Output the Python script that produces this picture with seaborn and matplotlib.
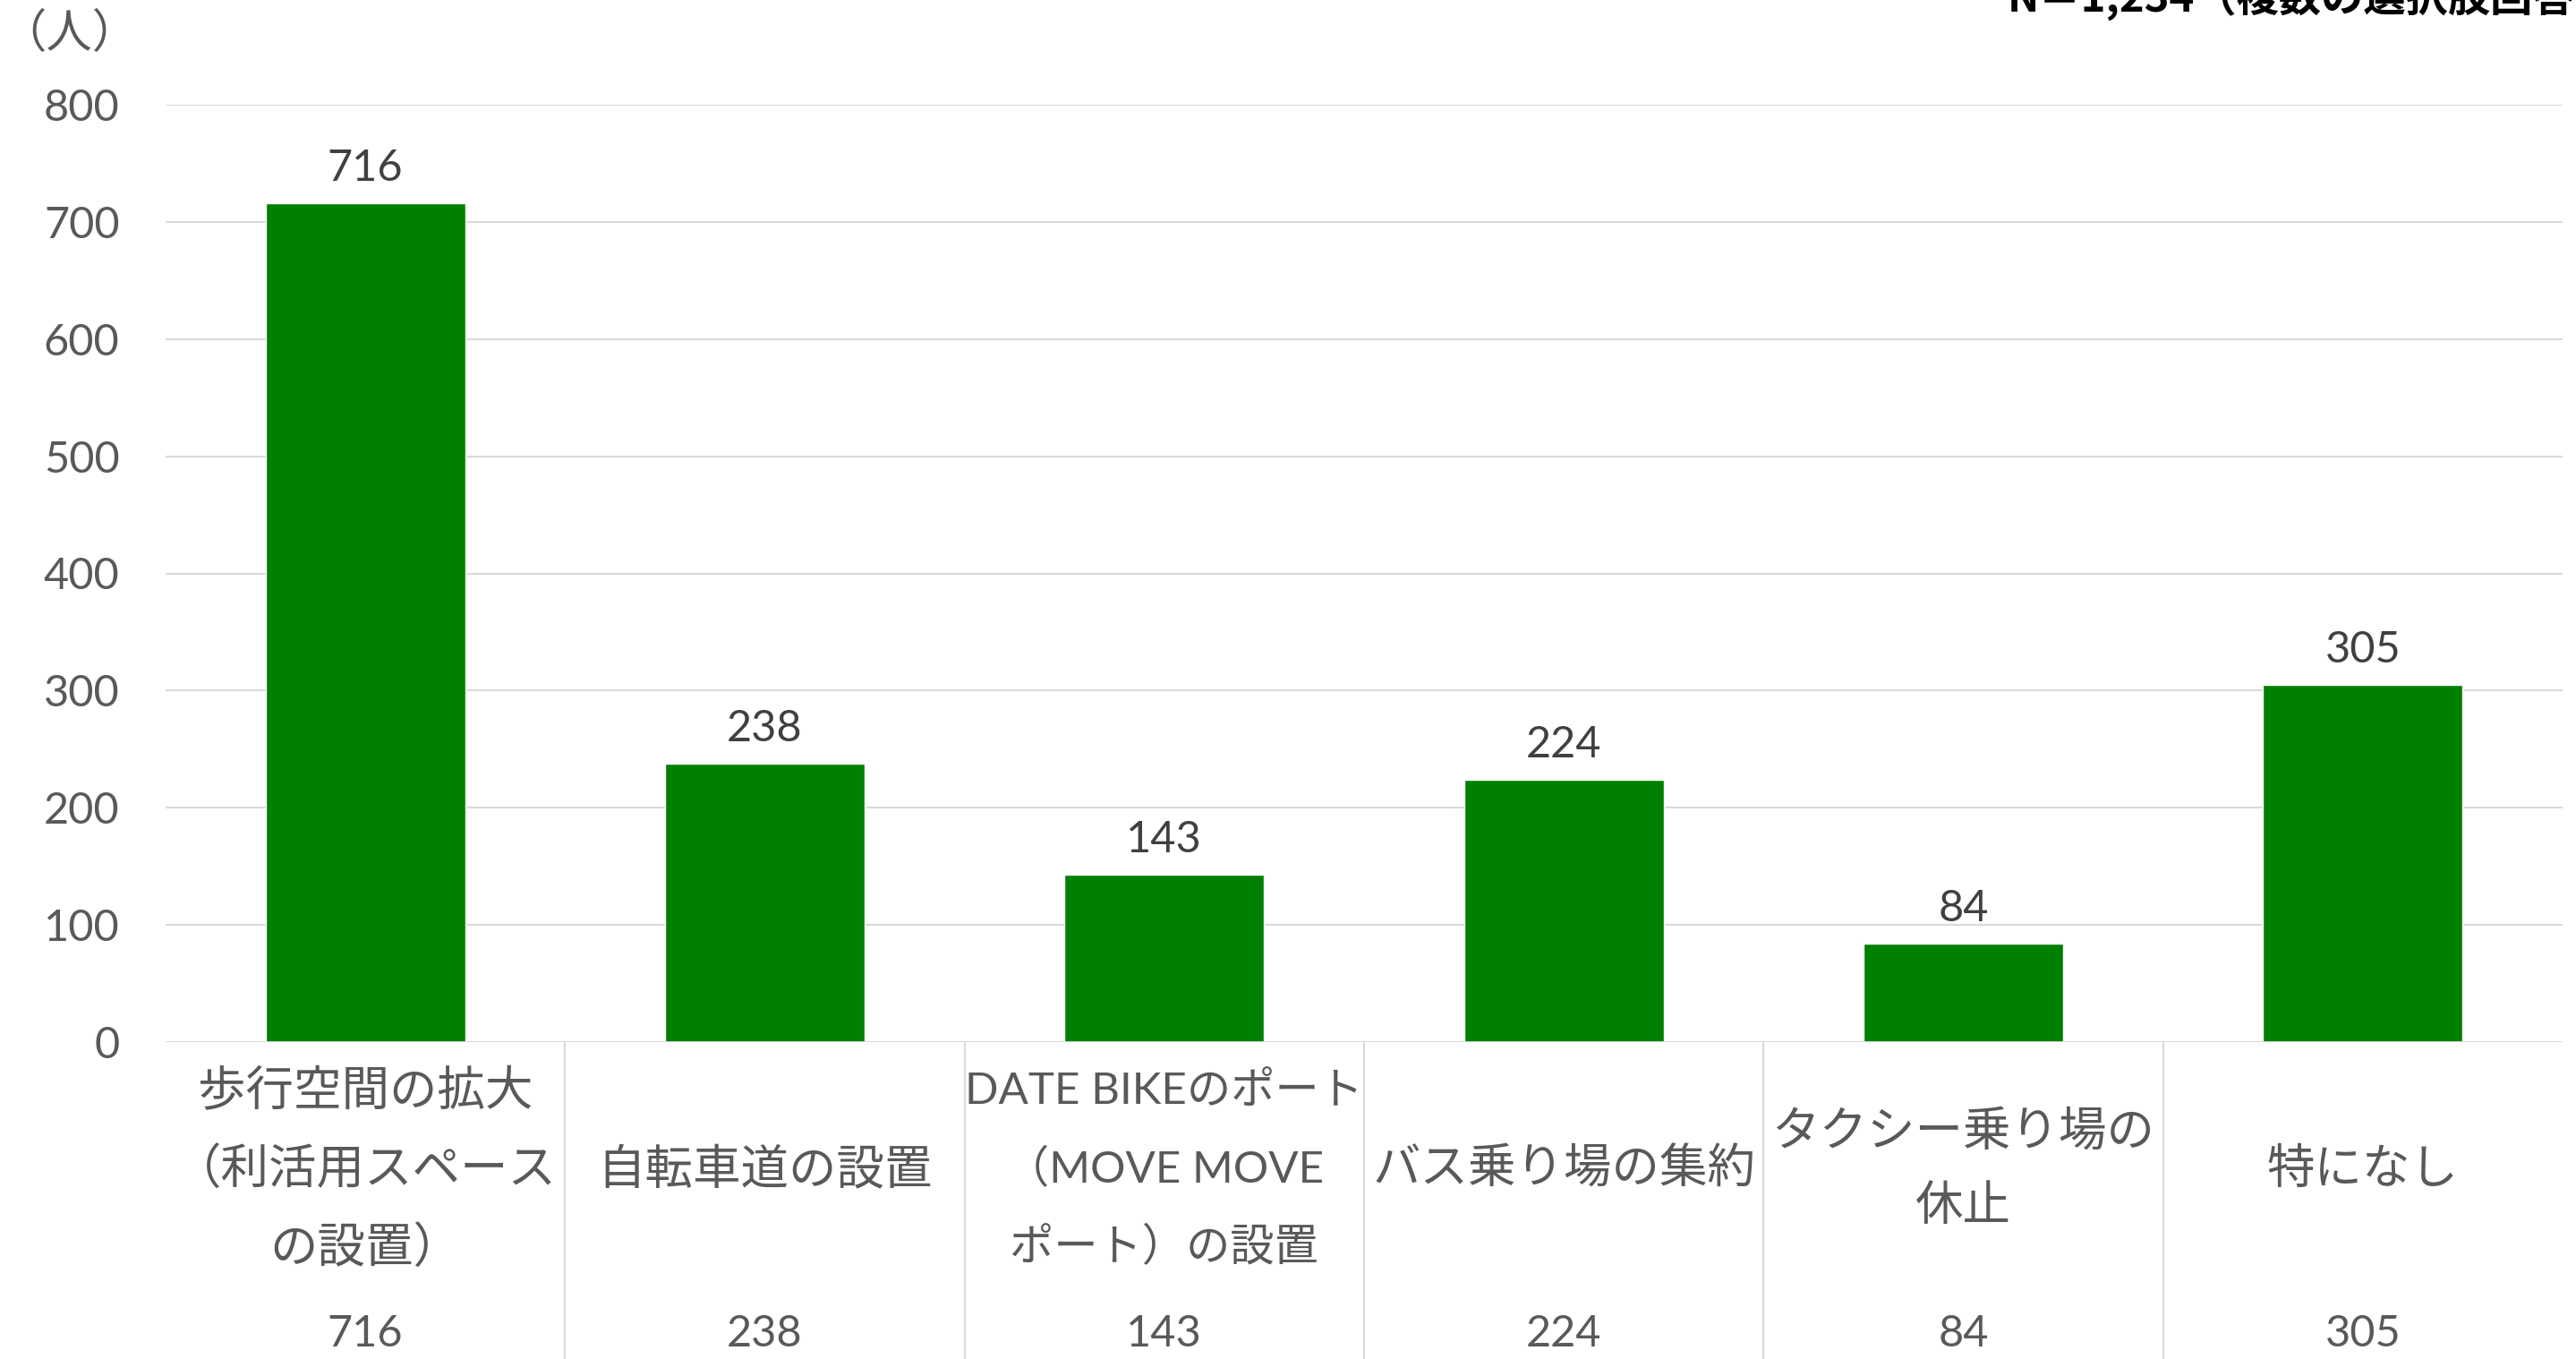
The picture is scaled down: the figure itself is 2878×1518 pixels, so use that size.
import matplotlib
matplotlib.use('Agg')
import matplotlib.pyplot as plt
import matplotlib.transforms as mtrans
from matplotlib.lines import Line2D
from matplotlib import font_manager
import seaborn as sns
import pandas as pd

categories = [
    "歩行空間の拡大\n（利活用スペース\nの設置）",
    "自転車道の設置",
    "DATE BIKEのポート\n（MOVE MOVE\nポート）の設置",
    "バス乗り場の集約",
    "タクシー乗り場の\n休止",
    "特になし",
]
values = [716, 238, 143, 224, 84, 305]
yticks = [0, 100, 200, 300, 400, 500, 600, 700, 800]
title_text = "N＝1,234（複数の選択肢回答可）"
unit_text = "（人）"

sns.set_theme(style='white')
plt.rcParams['font.family'] = ['Lato', 'Noto Sans CJK JP', 'DejaVu Sans']

installed = {f.name for f in font_manager.fontManager.ttflist}
narrow = 'Liberation Sans Narrow' in installed
label_family = (['Liberation Sans Narrow', 'Noto Sans CJK JP', 'DejaVu Sans']
                if narrow else ['Lato', 'Noto Sans CJK JP', 'DejaVu Sans'])

W, H = 2878, 1518
fig = plt.figure(figsize=(W / 100, H / 100), dpi=100)
ax_left, ax_right, ax_top, ax_bottom = 185, 2863, 117, 1164
ax = fig.add_axes([ax_left / W, (H - ax_bottom) / H,
                   (ax_right - ax_left) / W, (ax_bottom - ax_top) / H])

df = pd.DataFrame({'cat': categories, 'val': values})
sns.barplot(data=df, x='cat', y='val', color='#008000', saturation=1,
            width=0.5, ax=ax)
ax.set_xlim(-0.5, len(categories) - 0.5)
ax.set_ylim(0, 800)
ax.set_yticks(yticks)
ax.yaxis.grid(True, color='#D9D9D9', linewidth=1.5)
ax.xaxis.grid(False)
ax.set_axisbelow(True)
for s in ax.spines.values():
    s.set_visible(False)
ax.axhline(0, color='#D9D9D9', lw=2)
ax.tick_params(axis='y', length=0, pad=37, labelsize=35, labelcolor='#595959')
ax.set_xticks([])
ax.set_xlabel('')
ax.set_ylabel('')

ax.bar_label(ax.containers[0], padding=12, fontsize=35, color='#404040')

trans = mtrans.blended_transform_factory(ax.transData, fig.transFigure)
label_y = 1 - 1306 / H
num_y = 1 - 1490 / H
for i, (lab, v) in enumerate(zip(categories, values)):
    fs = 38.5
    fam = ['Lato', 'Noto Sans CJK JP', 'DejaVu Sans']
    if 'DATE' in lab:
        fam = label_family
        if not narrow:
            fs = 35.5
    ax.text(i, label_y, lab, transform=trans, ha='center', va='center',
            fontsize=fs, color='#595959', linespacing=1.87 * 38.5 / fs,
            clip_on=False, family=fam)
    ax.text(i, num_y, str(v), transform=trans, ha='center', va='center',
            fontsize=35, color='#595959', clip_on=False)
for i in range(len(categories) - 1):
    fig.add_artist(Line2D([i + 0.5, i + 0.5], [0, (H - ax_bottom) / H],
                          transform=trans, color='#D9D9D9', lw=1.5))

fig.text(0 / W, 1 - 38 / H, unit_text, ha='left', va='center', fontsize=37,
         color='#595959', family=['Noto Sans CJK JP', 'DejaVu Sans'])
fig.text(2243 / W, 1 - 13 / H, title_text, ha='left', va='baseline',
         fontsize=34, fontweight='bold', color='black',
         family=['Noto Sans CJK JP', 'DejaVu Sans'])

fig.savefig('out.png', dpi=100)
